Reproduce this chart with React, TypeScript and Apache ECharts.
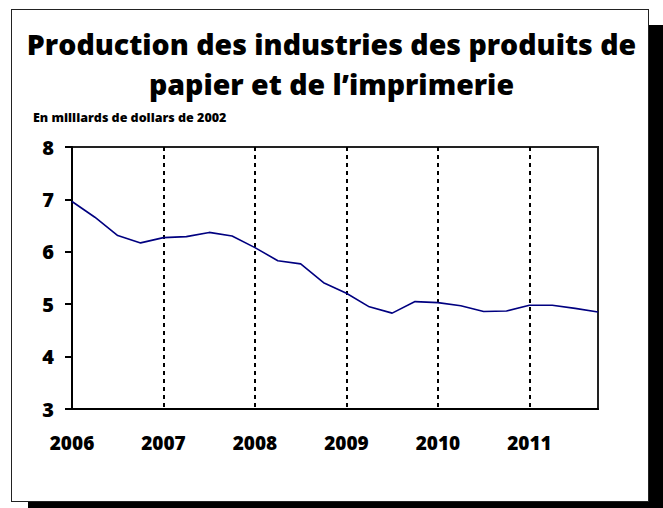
import React, { useEffect, useRef } from "react";
import * as echarts from "echarts";

const titleLines = ["Production des industries des produits de", "papier et de l\u2019imprimerie"];
const subtitle = "En milliards de dollars de 2002";
const years = ["2006", "2007", "2008", "2009", "2010", "2011"];
const quarters = ["T1", "T2", "T3", "T4"];
const values = [
  6.96, 6.66, 6.31, 6.17,
  6.27, 6.29, 6.37, 6.30,
  6.08, 5.83, 5.77, 5.41,
  5.21, 4.95, 4.83, 5.05,
  5.03, 4.97, 4.86, 4.87,
  4.98, 4.98, 4.92, 4.85,
];
const yTicks = { min: 3, max: 8, interval: 1 };

const FONT = "'Open Sans', Lato, sans-serif";

export default function App() {
  const ref = useRef<HTMLDivElement>(null);
  useEffect(() => {
    if (!ref.current) return;
    const chart = echarts.init(ref.current, null, { renderer: "svg" });
    const categories: string[] = [];
    years.forEach((y) => quarters.forEach((q) => categories.push(y + " " + q)));
    chart.setOption({
      animation: false,
      backgroundColor: "transparent",
      title: [
        {
          text: titleLines.join("\n"),
          left: "center",
          top: 19,
          textStyle: { fontFamily: FONT, fontWeight: 800, fontSize: 28.5, lineHeight: 40, color: "#000" },
        },
        {
          text: subtitle,
          left: 28,
          top: 103,
          textStyle: { fontFamily: FONT, fontWeight: 800, fontSize: 12.5, lineHeight: 18, color: "#000" },
        },
      ],
      grid: {
        left: 72,
        top: 147,
        width: 526,
        height: 262,
        show: true,
        borderColor: "#222",
        borderWidth: 2,
        backgroundColor: "transparent",
      },
      xAxis: {
        type: "category",
        data: categories,
        boundaryGap: false,
        axisLine: { show: true, lineStyle: { color: "#000", width: 2 } },
        axisTick: { show: false },
        axisLabel: {
          interval: (i: number) => i % 4 === 0,
          formatter: (v: string) => v.slice(0, 4),
          margin: 24,
          fontFamily: FONT,
          fontWeight: 800,
          fontSize: 19,
          color: "#000",
        },
        splitLine: {
          show: true,
          interval: (i: number) => i % 4 === 0 && i > 0,
          lineStyle: { color: "#000", width: 2, type: [4, 4] },
        },
      },
      yAxis: {
        type: "value",
        min: yTicks.min,
        max: yTicks.max,
        interval: yTicks.interval,
        axisLine: { show: true, lineStyle: { color: "#000", width: 2 } },
        axisTick: { show: true, inside: false, length: 7, lineStyle: { color: "#000", width: 2 } },
        axisLabel: {
          margin: 18,
          fontFamily: FONT,
          fontWeight: 800,
          fontSize: 20,
          color: "#000",
        },
        splitLine: { show: false },
      },
      series: [
        {
          type: "line",
          data: values,
          symbol: "none",
          lineStyle: { color: "#000080", width: 1.6 },
        },
      ],
    });
    return () => chart.dispose();
  }, []);

  return (
    <div style={{ position: "fixed", left: 0, top: 0, width: 663, height: 508, overflow: "hidden", background: "#fff" }}>
      <div style={{ position: "absolute", left: 28, top: 25, width: 640, height: 490, background: "#000" }} />
      <div style={{ position: "absolute", left: 11, top: 9, width: 636, height: 491, background: "#fff", border: "1.5px solid #222" }} />
      <div ref={ref} style={{ position: "absolute", left: 0, top: 0, width: 663, height: 508 }} />
    </div>
  );
}
